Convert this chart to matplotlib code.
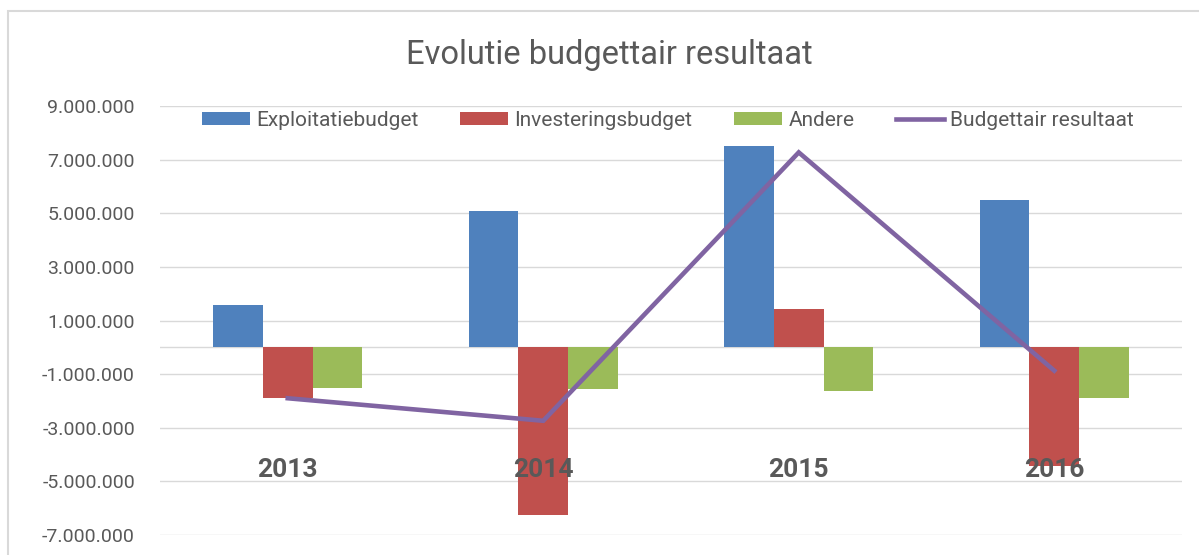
import matplotlib
matplotlib.use("Agg")
import matplotlib.pyplot as plt
import numpy as np
from matplotlib.patches import Rectangle
from matplotlib.ticker import FuncFormatter

plt.rcParams['font.family'] = ['Roboto', 'DejaVu Sans']

years = ["2013", "2014", "2015", "2016"]
exploitatie = [1580000, 5080000, 7510000, 5490000]
investering = [-1900000, -6270000, 1430000, -4420000]
andere = [-1530000, -1560000, -1620000, -1880000]
resultaat = [-1900000, -2740000, 7270000, -870000]
yticks = [-7000000, -5000000, -3000000, -1000000, 1000000, 3000000, 5000000, 7000000, 9000000]

TXT = "#595959"
GRID = "#D9D9D9"

fig = plt.figure(figsize=(11.99, 5.55), dpi=100)
W, H = 1199, 555
ax = fig.add_axes([160 / W, 1 - 535 / H, (1182 - 160) / W, (535 - 106) / H])

x = np.arange(len(years))
bw = 0.194
b1 = ax.bar(x - bw, exploitatie, bw, color="#4F81BD", label="Exploitatiebudget", zorder=2)
b2 = ax.bar(x, investering, bw, color="#C0504D", label="Investeringsbudget", zorder=2)
b3 = ax.bar(x + bw, andere, bw, color="#9BBB59", label="Andere", zorder=2)
l1, = ax.plot(x, resultaat, color="#8064A2", lw=3.3, label="Budgettair resultaat", zorder=3,
              solid_joinstyle="miter")

ax.set_xlim(-0.5, len(years) - 0.5)
ax.set_ylim(-7000000, 9000000)
ax.set_yticks(yticks)
ax.yaxis.set_major_formatter(FuncFormatter(lambda v, p: f"{v:,.0f}".replace(",", ".")))
ax.tick_params(axis="y", length=0, pad=18, labelsize=14, labelcolor=TXT)
ax.set_xticks([])
ax.grid(axis="y", color=GRID, lw=1, zorder=0)
ax.axhline(0, color=GRID, lw=1, zorder=1)
for s in ax.spines.values():
    s.set_visible(False)

trans = ax.get_xaxis_transform()
for xi, lab in zip(x, years):
    ax.text(xi, 0.151, lab, transform=trans, ha="center", va="center",
            fontsize=19, fontweight="bold", color=TXT, zorder=5)

fig.text(609 / W, 1 - 55 / H, "Evolutie budgettair resultaat", ha="center", va="center",
         fontsize=23.5, color=TXT)

leg = fig.legend([b1, b2, b3, l1],
                 ["Exploitatiebudget", "Investeringsbudget", "Andere", "Budgettair resultaat"],
                 loc="center", bbox_to_anchor=(668 / W, 1 - 120 / H), ncol=4, frameon=False,
                 fontsize=15, handlelength=2.3, handleheight=0.6, handletextpad=0.3,
                 columnspacing=2.0, labelcolor=TXT)

fig.patches.append(Rectangle((8 / W, -0.1), 1.2, 1 - 11 / H + 0.1, transform=fig.transFigure,
                             fill=False, edgecolor=GRID, lw=1.5, zorder=0))

fig.savefig("out.png", dpi=100)
